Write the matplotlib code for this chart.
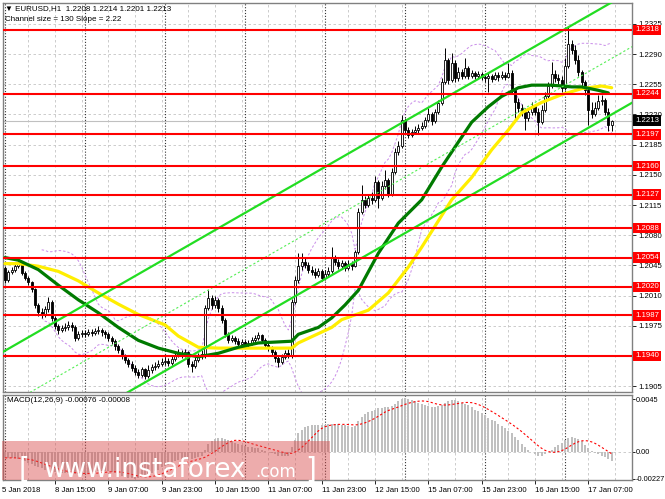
import matplotlib
matplotlib.use("Agg")
import matplotlib.pyplot as plt
import matplotlib.transforms as mtransforms
from matplotlib.patches import Rectangle
import numpy as np
import pandas as pd

plt.rcParams['font.family'] = ['Liberation Sans', 'DejaVu Sans']

# EURUSD H1, bar 0 = 8 Jan 2018 00:00, last bar = 17 Jan 14:00
first_open = 1.2042
close = [
    1.2028, 1.2037, 1.2040, 1.2044, 1.2047, 1.2036, 1.2030, 1.2026, 1.2018, 1.1999,
    1.1991, 1.1987, 1.1994, 1.2002, 1.1984, 1.1975, 1.1970, 1.1972, 1.1973, 1.1976,
    1.1973, 1.1961, 1.1965, 1.1967, 1.1965, 1.1968, 1.1967, 1.1969, 1.1970, 1.1968,
    1.1965, 1.1961, 1.1957, 1.1951, 1.1947, 1.1940, 1.1935, 1.1931, 1.1926, 1.1921,
    1.1918, 1.1925, 1.1917, 1.1924, 1.1927, 1.1928, 1.1931, 1.1933, 1.1934, 1.1932,
    1.1936, 1.1940, 1.1943, 1.1941, 1.1944, 1.1931, 1.1928, 1.1935, 1.1940, 1.1942,
    1.1996, 1.2007, 1.1999, 1.2005, 1.1996, 1.1982, 1.1965, 1.1958, 1.1961, 1.1957,
    1.1954, 1.1956, 1.1953, 1.1955, 1.1958, 1.1961, 1.1964, 1.1958, 1.1953, 1.1949,
    1.1944, 1.1938, 1.1933, 1.1939, 1.1943, 1.1941, 1.2002, 1.2028, 1.2044, 1.2049,
    1.2045, 1.2040, 1.2037, 1.2034, 1.2038, 1.2030, 1.2035, 1.2038, 1.2054, 1.2049,
    1.2044, 1.2048, 1.2042, 1.2047, 1.2044, 1.2060, 1.2107, 1.2121, 1.2115, 1.2123,
    1.2121, 1.2142, 1.2123, 1.2137, 1.2144, 1.2128, 1.2153, 1.2176, 1.2183, 1.2214,
    1.2202, 1.2196, 1.2200, 1.2202, 1.2204, 1.2207, 1.2214, 1.2221, 1.2212, 1.2223,
    1.2233, 1.2258, 1.2283, 1.2260, 1.2280, 1.2262, 1.2269, 1.2265, 1.2274, 1.2265,
    1.2268, 1.2265, 1.2267, 1.2263, 1.2262, 1.2265, 1.2261, 1.2266, 1.2263, 1.2266,
    1.2263, 1.2268, 1.2248, 1.2234, 1.2228, 1.2223, 1.2216, 1.2223, 1.2230, 1.2223,
    1.2211, 1.2225, 1.2241, 1.2253, 1.2267, 1.2262, 1.2260, 1.2251, 1.2276, 1.2302,
    1.2295, 1.2283, 1.2269, 1.2258, 1.2248, 1.2225, 1.2221, 1.2228, 1.2236, 1.2237,
    1.2223, 1.2208, 1.2213,
]
high = [
    1.2044, 1.2040, 1.2043, 1.2048, 1.2052, 1.2048, 1.2038, 1.2033, 1.2027, 1.2019,
    1.2001, 1.1996, 1.1998, 1.2008, 1.2005, 1.1986, 1.1977, 1.1976, 1.1978, 1.1980,
    1.1979, 1.1976, 1.1969, 1.1970, 1.1970, 1.1971, 1.1971, 1.1972, 1.1975, 1.1972,
    1.1970, 1.1968, 1.1963, 1.1960, 1.1954, 1.1949, 1.1942, 1.1938, 1.1934, 1.1929,
    1.1925, 1.1927, 1.1926, 1.1929, 1.1931, 1.1933, 1.1935, 1.1938, 1.1939, 1.1938,
    1.1940, 1.1944, 1.1948, 1.1947, 1.1948, 1.1946, 1.1934, 1.1939, 1.1943, 1.1947,
    1.1999, 1.2016, 1.2011, 1.2009, 1.2007, 1.1999, 1.1984, 1.1968, 1.1964, 1.1963,
    1.1961, 1.1960, 1.1958, 1.1958, 1.1962, 1.1964, 1.1968, 1.1965, 1.1961, 1.1956,
    1.1951, 1.1947, 1.1941, 1.1942, 1.1947, 1.1948, 1.2006, 1.2033, 1.2059, 1.2059,
    1.2054, 1.2049, 1.2044, 1.2042, 1.2042, 1.2041, 1.2040, 1.2043, 1.2066, 1.2057,
    1.2052, 1.2051, 1.2050, 1.2051, 1.2050, 1.2063, 1.2112, 1.2138, 1.2125, 1.2128,
    1.2130, 1.2149, 1.2144, 1.2143, 1.2156, 1.2146, 1.2158, 1.2181, 1.2189, 1.2219,
    1.2216, 1.2205, 1.2203, 1.2207, 1.2209, 1.2211, 1.2217, 1.2228, 1.2223, 1.2226,
    1.2237, 1.2262, 1.2297, 1.2286, 1.2291, 1.2283, 1.2275, 1.2273, 1.2286, 1.2276,
    1.2272, 1.2270, 1.2270, 1.2269, 1.2267, 1.2268, 1.2267, 1.2269, 1.2269, 1.2270,
    1.2269, 1.2280, 1.2272, 1.2251, 1.2239, 1.2232, 1.2228, 1.2228, 1.2234, 1.2232,
    1.2228, 1.2231, 1.2246, 1.2258, 1.2281, 1.2272, 1.2267, 1.2265, 1.2286, 1.2323,
    1.2306, 1.2301, 1.2289, 1.2272, 1.2260, 1.2251, 1.2234, 1.2234, 1.2243, 1.2243,
    1.2239, 1.2228, 1.2214,
]
low = [
    1.2025, 1.2026, 1.2035, 1.2037, 1.2042, 1.2034, 1.2028, 1.2022, 1.2014, 1.1996,
    1.1986, 1.1984, 1.1985, 1.1991, 1.1980, 1.1971, 1.1965, 1.1968, 1.1969, 1.1970,
    1.1969, 1.1957, 1.1958, 1.1962, 1.1962, 1.1963, 1.1963, 1.1964, 1.1965, 1.1963,
    1.1961, 1.1957, 1.1954, 1.1947, 1.1943, 1.1936, 1.1932, 1.1927, 1.1922, 1.1918,
    1.1914, 1.1916, 1.1913, 1.1914, 1.1920, 1.1924, 1.1926, 1.1928, 1.1929, 1.1928,
    1.1929, 1.1934, 1.1939, 1.1938, 1.1939, 1.1927, 1.1921, 1.1926, 1.1933, 1.1936,
    1.1938, 1.1993, 1.1994, 1.1996, 1.1991, 1.1978, 1.1962, 1.1955, 1.1956, 1.1954,
    1.1950, 1.1951, 1.1949, 1.1950, 1.1953, 1.1956, 1.1958, 1.1955, 1.1949, 1.1946,
    1.1941, 1.1933, 1.1927, 1.1931, 1.1936, 1.1938, 1.1938, 1.2000, 1.2025, 1.2040,
    1.2042, 1.2036, 1.2034, 1.2030, 1.2031, 1.2027, 1.2028, 1.2033, 1.2036, 1.2045,
    1.2041, 1.2042, 1.2038, 1.2040, 1.2040, 1.2043, 1.2058, 1.2105, 1.2112, 1.2113,
    1.2116, 1.2118, 1.2112, 1.2121, 1.2134, 1.2124, 1.2125, 1.2151, 1.2173, 1.2181,
    1.2197, 1.2193, 1.2194, 1.2197, 1.2199, 1.2202, 1.2204, 1.2211, 1.2208, 1.2210,
    1.2221, 1.2231, 1.2255, 1.2255, 1.2258, 1.2258, 1.2259, 1.2261, 1.2262, 1.2261,
    1.2262, 1.2261, 1.2262, 1.2260, 1.2258, 1.2246, 1.2258, 1.2260, 1.2259, 1.2261,
    1.2260, 1.2262, 1.2244, 1.2216, 1.2223, 1.2218, 1.2202, 1.2212, 1.2219, 1.2219,
    1.2196, 1.2209, 1.2223, 1.2239, 1.2251, 1.2258, 1.2255, 1.2246, 1.2248, 1.2274,
    1.2290, 1.2279, 1.2265, 1.2253, 1.2243, 1.2208, 1.2216, 1.2218, 1.2225, 1.2231,
    1.2219, 1.2201, 1.2201,
]

# moving averages (bar, price)
yellow_bar = [0, 4, 10, 16, 22, 28, 34, 40, 48, 52, 58, 64, 74, 86, 88, 98, 101, 109,
              115, 121, 125, 134, 140, 146, 151, 155, 161, 167, 173, 179, 182]
yellow_ma = [1.2047, 1.2047, 1.2044, 1.2038, 1.2027, 1.2013, 1.2000, 1.1988, 1.1976,
             1.1963, 1.1950, 1.1949, 1.1949, 1.1949, 1.1955, 1.1973, 1.1982, 1.1993,
             1.2013, 1.2043, 1.2066, 1.2121, 1.2147, 1.2179, 1.2202, 1.2222, 1.2234,
             1.2243, 1.2250, 1.2253, 1.2251]
green_bar = [0, 4, 10, 16, 22, 28, 34, 40, 46, 52, 58, 64, 70, 76, 86, 88, 94, 98, 102,
             106, 112, 118, 125, 131, 136, 140, 145, 149, 154, 158, 164, 170, 173, 178, 181]
green_ma = [1.2054, 1.2051, 1.2040, 1.2022, 1.2005, 1.1990, 1.1973, 1.1958, 1.1949,
            1.1943, 1.1939, 1.1943, 1.1950, 1.1955, 1.1957, 1.1965, 1.1973, 1.1984,
            1.1999, 1.2016, 1.2059, 1.2094, 1.2121, 1.2159, 1.2188, 1.2211, 1.2229,
            1.2241, 1.2251, 1.2254, 1.2254, 1.2252, 1.2252, 1.2248, 1.2245]

levels = [1.2318, 1.2244, 1.2197, 1.2160, 1.2127, 1.2088, 1.2054, 1.2020, 1.1987, 1.1940]
price_ticks = [1.2325, 1.2290, 1.2255, 1.2220, 1.2185, 1.2150, 1.2115, 1.2080,
               1.2045, 1.2010, 1.1975, 1.1940, 1.1905]
bid = 1.2213

# regression channel: upper line at bar 0, width, slope per bar
channel_top0 = 1.1946
channel_size = 0.0130
channel_slope = 0.000222

# MACD main line, in 0.0001
macd = [
    -5, -5, -5, -5, -6, -7, -8, -9, -10, -12,
    -13, -14, -15, -15, -16, -17, -18, -18, -18, -18,
    -18, -19, -19, -19, -18, -18, -17, -17, -16, -16,
    -16, -16, -17, -18, -19, -20, -21, -22, -22, -23,
    -22, -21, -20, -19, -18, -16, -15, -13, -12, -11,
    -9, -8, -7, -6, -5, -6, -6, -5, -4, -3,
    2, 7, 9, 11, 12, 12, 11, 10, 9, 8,
    7, 6, 5, 4, 4, 3, 3, 2, 1, 0,
    -1, -2, -3, -3, -3, -3, 4, 10, 16, 19,
    21, 22, 23, 23, 23, 23, 23, 24, 24, 24,
    24, 23, 23, 22, 21, 22, 26, 30, 32, 34,
    35, 36, 37, 37, 38, 38, 39, 41, 43, 45,
    46, 45, 44, 43, 42, 41, 40, 39, 38, 38,
    39, 40, 42, 43, 44, 44, 43, 42, 41, 40,
    38, 36, 35, 33, 31, 29, 27, 26, 24, 22,
    20, 18, 16, 13, 10, 7, 4, 2, 0, -2,
    -3, -3, -2, 0, 2, 4, 6, 8, 10, 12,
    13, 12, 11, 9, 6, 3, 1, -1, -2, -3,
    -4, -6, -8,
]

time_bars = [15, 31, 47, 63, 79, 95, 111, 127, 143, 159, 175]
time_labels = ['8 Jan 15:00', '9 Jan 07:00', '9 Jan 23:00', '10 Jan 15:00', '11 Jan 07:00',
               '11 Jan 23:00', '12 Jan 15:00', '15 Jan 07:00', '15 Jan 23:00',
               '16 Jan 15:00', '17 Jan 07:00']

W, H = 665, 499


def box(l, t, r, b):
    return [l / W, 1 - b / H, (r - l) / W, (b - t) / H]


fig = plt.figure(figsize=(W / 100, H / 100), dpi=100)
ax = fig.add_axes(box(3, 3, 632, 392))
axm = fig.add_axes(box(3, 395, 632, 480))

n = len(close)
x = np.arange(n)
c = np.array(close)
o = np.array([first_open] + close[:-1])
h = np.array(high)
l = np.array(low)

# grid and day separators
for t in price_ticks:
    ax.axhline(t, color='#c4c4c4', lw=0.6, ls=(0, (3, 3)), zorder=0)
for a in (ax, axm):
    for g in range(7, 190, 8):
        a.axvline(g, color='#c4c4c4', lw=0.6, ls=(0, (3, 3)), zorder=0)
    for d in range(0, 190, 24):
        a.axvline(d, color='#333333', lw=0.8, ls=(0, (1, 1.6)), zorder=1)

ax.axhline(bid, color='#c0c0c0', lw=0.8, zorder=1)

# bollinger bands
s = pd.Series(close)
mid = s.rolling(20, min_periods=12).mean()
sd = s.rolling(20, min_periods=12).std(ddof=0)
for band in (mid + 2 * sd, mid - 2 * sd):
    ax.plot(x, band, color='#c98de9', lw=0.7, ls=(0, (2.5, 2)), zorder=2)

# candles
up = c >= o
ax.vlines(x, l, h, color='black', lw=0.7, zorder=3)
ax.bar(x, np.maximum(np.abs(c - o), 0.00004), bottom=np.minimum(o, c), width=0.66,
       color=np.where(up, 'white', 'black'), edgecolor='black', linewidth=0.6, zorder=4)

# moving averages
ax.plot(yellow_bar, yellow_ma, color='#ffee00', lw=2.3, zorder=5, solid_capstyle='round')
ax.plot(green_bar, green_ma, color='#007a00', lw=2.3, zorder=5, solid_capstyle='round')

# channel
cx = np.array([-2, 192])
top = channel_top0 + channel_slope * cx
ax.plot(cx, top, color='#22dd22', lw=1.6, zorder=6)
ax.plot(cx, top - channel_size, color='#22dd22', lw=1.6, zorder=6)
ax.plot(cx, top - channel_size / 2, color='#55ee55', lw=0.8, ls=(0, (2, 2)), zorder=6)

for lv in levels:
    ax.axhline(lv, color='#ff0000', lw=1.5, zorder=7)

ax.set_xlim(-0.6, 188.1)
ax.set_ylim(1.18981, 1.23493)
ax.set_xticks([])
ax.yaxis.tick_right()
ax.set_yticks(price_ticks)
# the 1.1940 tick label sits under the red 1.1940 level box
ax.set_yticklabels(['' if t in levels else f'{t:.4f}' for t in price_ticks])
ax.tick_params(axis='y', direction='out', length=3, width=0.6, pad=1.5, labelsize=5.6)

trans = mtransforms.blended_transform_factory(ax.transAxes, ax.transData)
for lv in levels:
    ax.text(1.0048, lv, f'{lv:.4f}', transform=trans, ha='left', va='center', fontsize=5.6,
            color='white', clip_on=False, zorder=10,
            bbox=dict(boxstyle='square,pad=0.22', fc='#ff0000', ec='none'))
ax.text(1.0048, bid, f'{bid:.4f}', transform=trans, ha='left', va='center', fontsize=5.6,
        color='white', clip_on=False, zorder=10,
        bbox=dict(boxstyle='square,pad=0.22', fc='black', ec='none'))

# MACD
m = np.array(macd) * 1e-4
signal = pd.Series(m).rolling(9, min_periods=1).mean()
axm.axhline(0, color='#c4c4c4', lw=0.6, ls=(0, (3, 3)), zorder=1)
axm.bar(x, m, width=0.62, color='#c0c0c0', zorder=3)
axm.plot(x, signal, color='#ff0000', lw=0.8, ls=(0, (2, 2)), zorder=4)
axm.set_xlim(-0.6, 188.1)
axm.set_ylim(-0.00238, 0.00484)
axm.yaxis.tick_right()
axm.set_yticks([0.0045, 0.0, -0.00227])
axm.set_yticklabels(['0.0045', '0.00', '-0.00227'])
axm.tick_params(axis='y', direction='out', length=2, width=0.6, pad=0.8, labelsize=5.3)
axm.set_xticks(time_bars)
axm.set_xticklabels([])
axm.tick_params(axis='x', direction='out', length=3, width=0.6)

tt = mtransforms.blended_transform_factory(axm.transData, axm.transAxes)
axm.text(-1.0, -0.118, '5 Jan 2018', transform=tt, ha='left', va='center', fontsize=5.6)
for b, lab in zip(time_bars, time_labels):
    axm.text(b, -0.118, lab, transform=tt, ha='left', va='center', fontsize=5.6)

for a in (ax, axm):
    for sp in a.spines.values():
        sp.set_color('#808080')
        sp.set_linewidth(1.0)

fig.text(5 / W, 1 - 8.5 / H, '\u25bc EURUSD,H1  1.2208 1.2214 1.2201 1.2213', fontsize=5.8,
         va='center', ha='left')
fig.text(5 / W, 1 - 19.5 / H, 'Channel size = 130 Slope = 2.22', fontsize=5.8,
         va='center', ha='left')
fig.text(7 / W, 1 - 401 / H, 'MACD(12,26,9) -0.00076 -0.00008', fontsize=5.8,
         va='center', ha='left')

# watermark
fig.add_artist(Rectangle((2 / W, 1 - 480 / H), 328 / W, 39 / H, transform=fig.transFigure,
                         facecolor='#d84848', alpha=0.45, edgecolor='none', zorder=20))
wm = dict(color='white', family=['DejaVu Sans'], zorder=21, va='baseline', ha='left')
fig.text(19 / W, 1 - 478 / H, '[', fontsize=20, **wm)
fig.text(44 / W, 1 - 477 / H, 'www.instaforex', fontsize=19, **wm)
fig.text(255 / W, 1 - 477 / H, '.com', fontsize=12, **wm)
fig.text(305 / W, 1 - 478 / H, ']', fontsize=20, **wm)

fig.savefig('out.png', dpi=100)
